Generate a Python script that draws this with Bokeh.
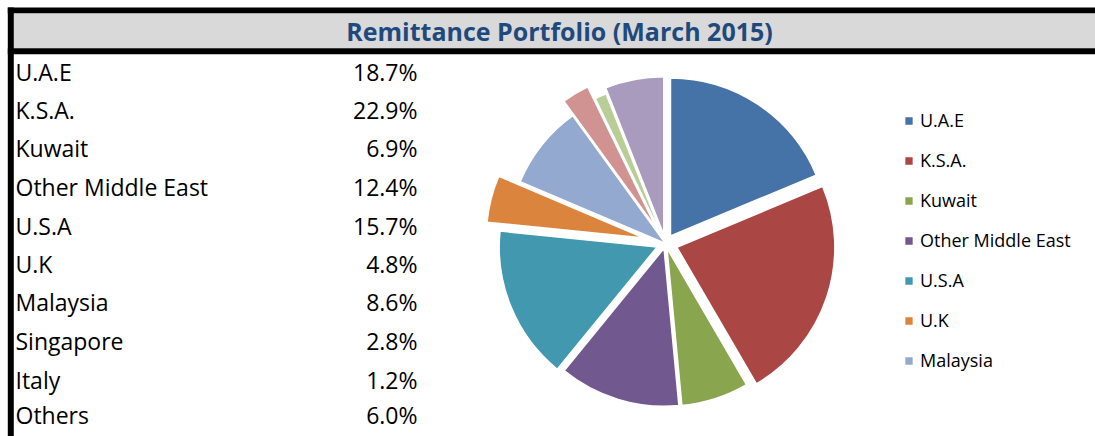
import math
from bokeh.plotting import figure
from bokeh.models import ColumnDataSource, Legend, LegendItem, Range1d, Label
from bokeh.core.properties import value
from bokeh.embed import file_html
from bokeh.resources import INLINE

# ---- data ----
categories = ["U.A.E", "K.S.A.", "Kuwait", "Other Middle East", "U.S.A", "U.K",
              "Malaysia", "Singapore", "Italy", "Others"]
shares = [18.7, 22.9, 6.9, 12.4, 15.7, 4.8, 8.6, 2.8, 1.2, 6.0]
title_text = "Remittance Portfolio (March 2015)"
legend_count = 7  # the reference legend shows only the first 7 entries

# ---- styles / layout ----
colors = ["#4572A7", "#AA4643", "#89A54E", "#71588F", "#4198AF", "#DB843D",
          "#93A9CF", "#D19392", "#B9CD96", "#A99BBD"]
explode_px = [9, 12, 5, 5, 9, 22, 0, 17, 3, 9]
row_screen_y = [71, 109, 147, 186, 225, 263, 301, 340, 379, 414]

W, H = 1095, 436
FONT = "Open Sans"


def sx(x):
    return x


def sy(y):
    return H - y


p = figure(width=W, height=H, x_range=Range1d(0, W), y_range=Range1d(0, H),
           output_backend="svg", toolbar_location=None, min_border=0,
           x_axis_location=None, y_axis_location=None)
p.grid.visible = False
p.outline_line_color = None
p.background_fill_color = "white"
p.border_fill_color = "white"

# ---- header band and frame ----
p.quad(left=[sx(7.3)], right=[W], top=[sy(7)], bottom=[sy(13)], fill_color="black", line_color=None)
p.quad(left=[sx(13.3)], right=[W], top=[sy(13)], bottom=[sy(47.7)], fill_color="#D9D9D9", line_color=None)
p.quad(left=[sx(7.3)], right=[W], top=[sy(47.7)], bottom=[sy(53.7)], fill_color="black", line_color=None)
p.quad(left=[sx(7.3)], right=[sx(13.3)], top=[sy(7)], bottom=[0], fill_color="black", line_color=None)

p.add_layout(Label(x=sx(559), y=sy(30), text=title_text, text_align="center",
                   text_baseline="middle", text_font=FONT, text_font_style="bold",
                   text_font_size="25px", text_color="#1F497D"))

# ---- table ----
tbl = ColumnDataSource(dict(
    lx=[sx(15)] * len(categories),
    vx=[sx(417)] * len(categories),
    y=[sy(v) for v in row_screen_y],
    name=categories,
    val=["%.1f%%" % s for s in shares],
))
p.text(x="lx", y="y", text="name", source=tbl, text_font=value(FONT),
       text_font_size="23px", text_baseline="middle", text_align="left", text_color="black")
p.text(x="vx", y="y", text="val", source=tbl, text_font=value(FONT),
       text_font_size="23px", text_baseline="middle", text_align="right", text_color="black")

# ---- pie ----
cx, cy, R = sx(665), sy(243), 158
total = sum(shares)
starts, ends, xs, ys = [], [], [], []
cum = 0.0
for s, e in zip(shares, explode_px):
    a0 = math.pi / 2 - 2 * math.pi * cum / total
    cum += s
    a1 = math.pi / 2 - 2 * math.pi * cum / total
    mid = (a0 + a1) / 2
    starts.append(a0)
    ends.append(a1)
    xs.append(cx + e * math.cos(mid))
    ys.append(cy + e * math.sin(mid))

pie = ColumnDataSource(dict(x=xs, y=ys, start=starts, end=ends, color=colors, name=categories))
wr = p.wedge(x="x", y="y", radius=R, start_angle="start", end_angle="end",
             direction="clock", fill_color="color", line_color="white", line_width=1.5,
             source=pie)

items = [LegendItem(label=categories[i], renderers=[wr], index=i) for i in range(legend_count)]
legend = Legend(items=items, location=(sx(903), H - 372), orientation="vertical",
                glyph_width=11, glyph_height=11, label_height=23, spacing=16,
                label_standoff=6, label_text_font=FONT, label_text_font_size="18px",
                label_text_color="black", padding=0, margin=0,
                border_line_color=None, background_fill_alpha=0)
p.add_layout(legend)

open("out.html", "w").write(file_html(p, INLINE))
